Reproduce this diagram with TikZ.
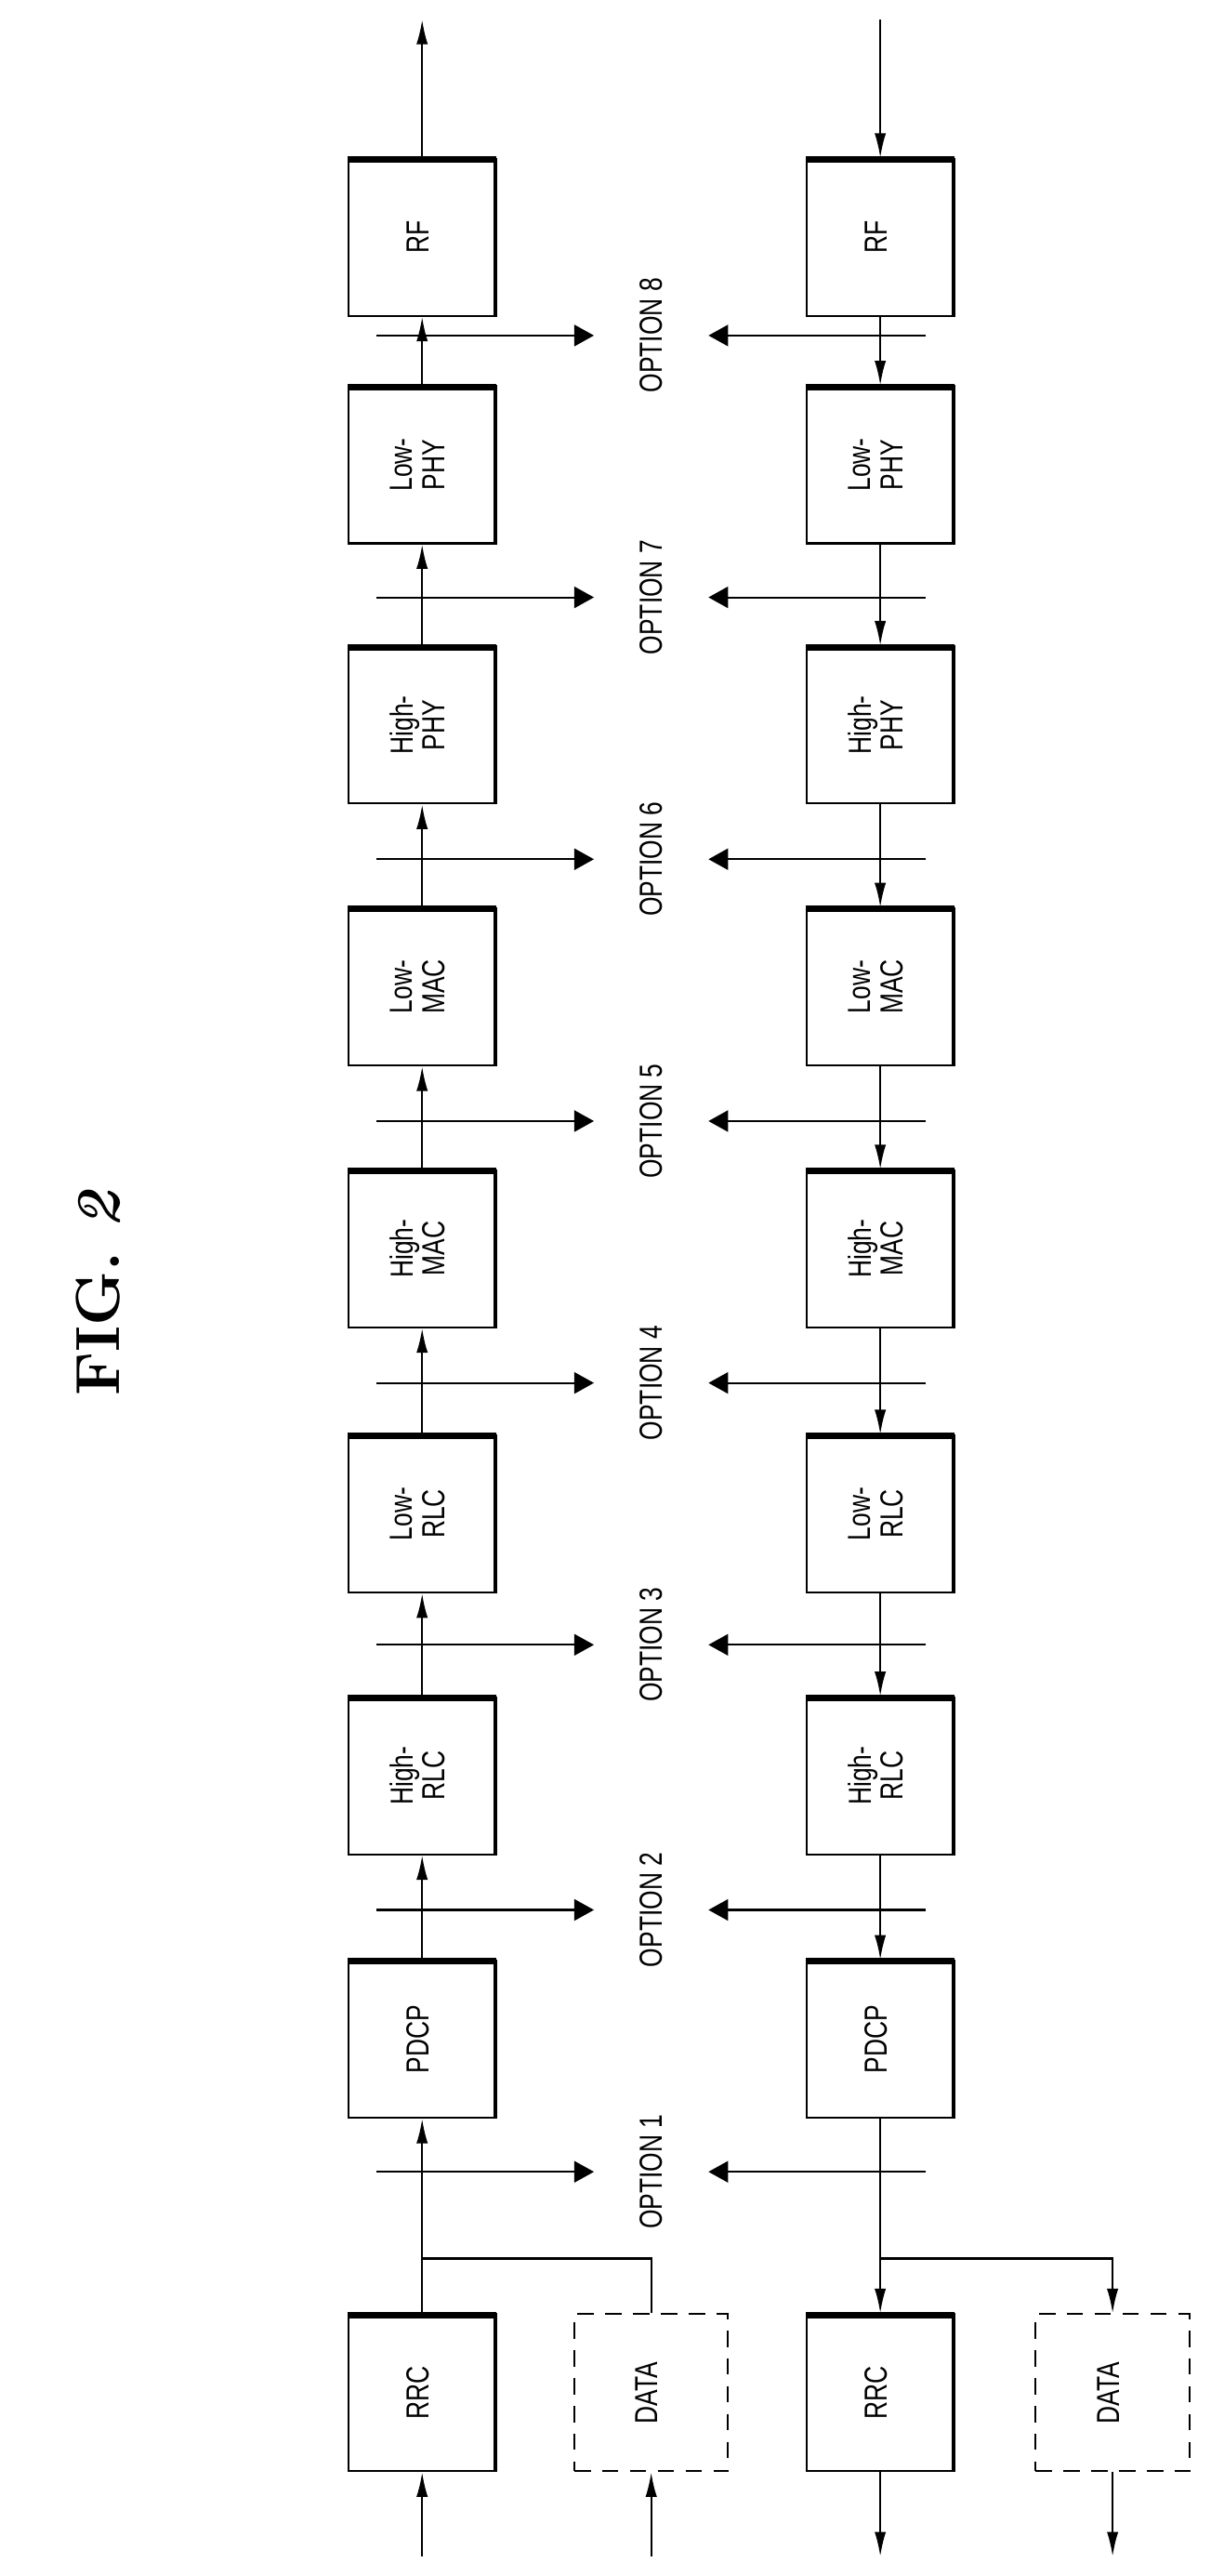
\documentclass[tikz,border=0pt]{standalone}
\usepackage{fontspec}
\setsansfont{Liberation Sans}
\usetikzlibrary{arrows.meta}
\newcommand\rtext[1]{\rotatebox{90}{\scalebox{1}[1.3]{\begin{tabular}{@{}c@{}}#1\end{tabular}}}}
\begin{document}
\begin{tikzpicture}[
 x=1pt,y=-1pt,
 line width=1.2pt,
 flow/.style={-{Latex[length=15pt,width=7pt]}},
 opt/.style={-{Triangle[length=12pt,width=13pt]}},
 block/.style={draw=black,rectangle,minimum width=90pt,minimum height=96pt,inner sep=0pt,font=\sffamily\fontsize{15}{15}\selectfont},
 datablock/.style={block,dashed,dash pattern=on 10pt off 7pt,minimum width=94pt},
 optlabel/.style={font=\sffamily\fontsize{15}{17}\selectfont}
]
\useasboundingbox (0,0) rectangle (740,1574);
\node at (60,790) {\rotatebox{90}{\fontsize{38}{40}\selectfont\bfseries FIG.~\textit{2}}};
% blocks of both chains
\foreach \name/\txt/\y in {rf/RF/145, lphy/Low-\\PHY/284, hphy/High-\\PHY/443,
  lmac/Low-\\MAC/603, hmac/High-\\MAC/763, lrlc/Low-\\RLC/925,
  hrlc/High-\\RLC/1085, pdcp/PDCP/1246, rrc/RRC/1462} {
 \node (up-\name) [block] at (258,\y) {\rtext{\txt}};
 \node (dn-\name) [block] at (538,\y) {\rtext{\txt}};
 \foreach \s in {up,dn} {
  \draw[line width=4pt] ([yshift=-1pt]\s-\name.north west) -- ([yshift=-1pt]\s-\name.north east);
  \draw[line width=2.5pt] ([xshift=-0.7pt]\s-\name.north east) -- ([xshift=-0.7pt]\s-\name.south east);
 }
}
\node (up-data) [datablock] at (398,1462) {\rtext{DATA}};
\node (dn-data) [datablock] at (680,1462) {\rtext{DATA}};
% upper chain
\coordinate (up-out) at (258,12);
\coordinate (up-rrc-in) at (258,1562);
\coordinate (up-data-in) at (398,1562);
\coordinate (up-split) at (258,1380);
\draw[flow] (up-rf) -- (up-out);
\draw[flow] (up-lphy) -- (up-rf);
\draw[flow] (up-hphy) -- (up-lphy);
\draw[flow] (up-lmac) -- (up-hphy);
\draw[flow] (up-hmac) -- (up-lmac);
\draw[flow] (up-lrlc) -- (up-hmac);
\draw[flow] (up-hrlc) -- (up-lrlc);
\draw[flow] (up-pdcp) -- (up-hrlc);
\draw[flow] (up-rrc) -- (up-pdcp);
\draw (up-data) |- (up-split);
\draw[flow] (up-rrc-in) -- (up-rrc);
\draw[flow] (up-data-in) -- (up-data);
% lower chain
\coordinate (dn-in) at (538,12);
\coordinate (dn-rrc-out) at (538,1562);
\coordinate (dn-data-out) at (680,1562);
\coordinate (dn-split) at (538,1380);
\draw[flow] (dn-in) -- (dn-rf);
\draw[flow] (dn-rf) -- (dn-lphy);
\draw[flow] (dn-lphy) -- (dn-hphy);
\draw[flow] (dn-hphy) -- (dn-lmac);
\draw[flow] (dn-lmac) -- (dn-hmac);
\draw[flow] (dn-hmac) -- (dn-lrlc);
\draw[flow] (dn-lrlc) -- (dn-hrlc);
\draw[flow] (dn-hrlc) -- (dn-pdcp);
\draw[flow] (dn-pdcp) -- (dn-rrc);
\draw[flow] (dn-split) -| (dn-data);
\draw[flow] (dn-rrc) -- (dn-rrc-out);
\draw[flow] (dn-data) -- (dn-data-out);
% split options
\foreach \n/\y in {8/205,7/365,6/525,5/685,4/845,3/1005,2/1167,1/1327} {
 \node (opt\n) [optlabel] at (398,\y) {\rotatebox{90}{\scalebox{1}[1.3]{OPTION \n}}};
 \coordinate (opt\n-l) at (230,\y);
 \coordinate (opt\n-r) at (566,\y);
 \draw[opt] (opt\n-l) -- (363,\y);
 \draw[opt] (opt\n-r) -- (433,\y);
}
\end{tikzpicture}
\end{document}
